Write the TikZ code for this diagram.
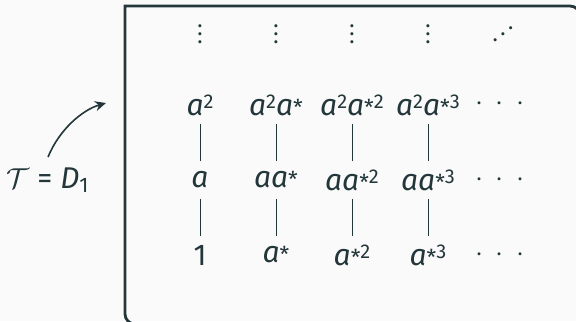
\documentclass[tikz,border=0pt]{standalone}
\usepackage{fontspec}
\setmainfont{Fira Sans}
\usepackage{graphicx}
\usetikzlibrary{arrows.meta}
\definecolor{mDarkTeal}{HTML}{23373B}
\definecolor{mBackground}{HTML}{FAFAFA}
\newcommand\lta{\textit{a}}
\newcommand\pwr[1]{\raisebox{3.5pt}{\fontsize{10}{10}\selectfont #1}}
\newcommand\astr{\raisebox{0pt}{\fontsize{11}{11}\selectfont *}}
\newcommand\hdts{$\cdotp\mkern5mu\cdotp\mkern5mu\cdotp$}
\begin{document}
\begin{tikzpicture}[x=0.5pt,y=-0.5pt,color=mDarkTeal,
  entry/.style={minimum height=19pt,inner sep=0pt,font=\fontsize{15}{18}\selectfont},
  dotsnode/.style={inner sep=0pt,font=\fontsize{11}{13}\selectfont},
  link/.style={line width=0.5pt},
  frame/.style={line width=1.4pt},
  pointer/.style={line width=0.8pt,-{Stealth[length=5.5pt,width=5pt]}}]
\useasboundingbox[fill=mBackground] (0,0) rectangle (576,321);
\clip (0,0) rectangle (576,321);
% the box
\draw[frame] (580,340) -- (580,16) arc[start angle=0,end angle=-90,radius=10]
  -- (125,6) -- (125,314) arc[start angle=180,end angle=90,radius=10] -- (600,324);
% entries
\foreach \i/\x/\p/\q/\r in {1/200/{\lta\pwr{2}}/{\lta}/{1},
  2/276/{\lta\pwr{2}\lta\astr}/{\lta\lta\astr}/{\lta\astr},
  3/352/{\lta\pwr{2}\lta\astr\pwr{2}}/{\lta\lta\astr\pwr{2}}/{\lta\astr\pwr{2}},
  4/428/{\lta\pwr{2}\lta\astr\pwr{3}}/{\lta\lta\astr\pwr{3}}/{\lta\astr\pwr{3}}}{
\node[dotsnode] (v\i) at (\x,28) {$\vdots$};
\node[entry] (t\i) at (\x,105) {\p};
\node[entry] (m\i) at (\x,180) {\q};
\node[entry] (b\i) at (\x,255) {\r};
\draw[link] (t\i) -- (m\i);
\draw[link] (m\i) -- (b\i);
}
\node[dotsnode] (v5) at (503,28) {\reflectbox{$\ddots$}};
\foreach \j/\y in {t/104,m/180,b/255}{
\node[entry] (\j5) at (500,\y) {\hdts};
}
% label and arrow
\node[entry,inner sep=5pt] (lbl) at (48,180) {$\mathcal{T}$ = \textit{D}\textsubscript{1}};
\coordinate (tip) at (106,103);
\draw[pointer] (lbl.north) .. controls (59,130) and (82,110) .. (tip);
\end{tikzpicture}
\end{document}
